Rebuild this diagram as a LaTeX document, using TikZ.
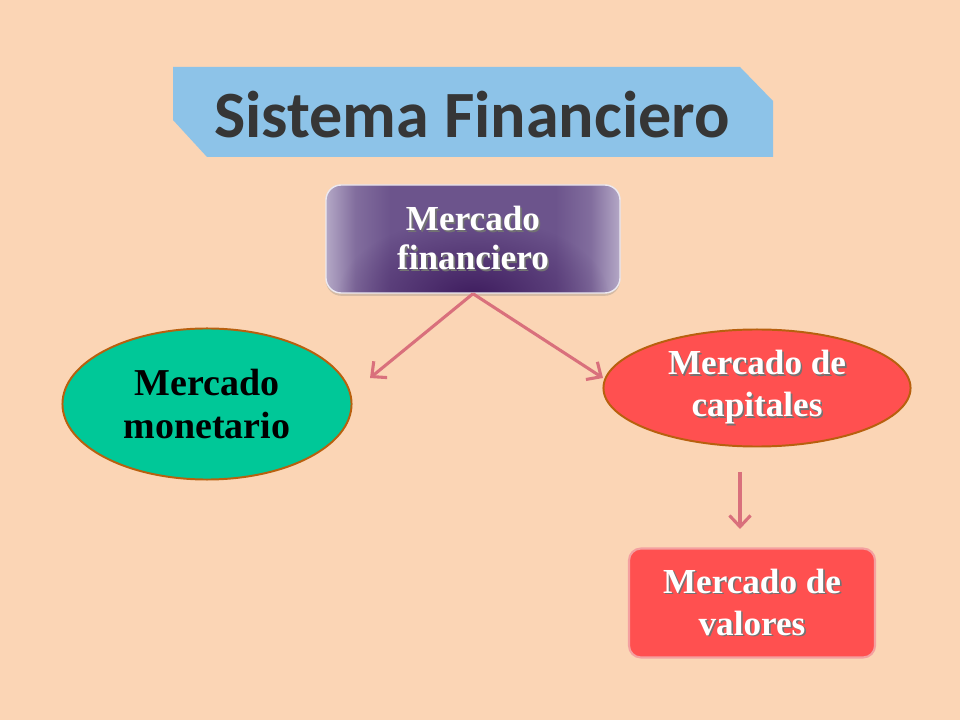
\documentclass[tikz,border=0pt]{standalone}
\usepackage{fontspec}
\setmainfont{Liberation Serif}
\newfontfamily\titulofont{Carlito}
\usetikzlibrary{shapes,positioning,arrows.meta,shadows,fadings}
\definecolor{fondo}{HTML}{FBD5B5}
\definecolor{celeste}{HTML}{8DC3E8}
\definecolor{grisoscuro}{HTML}{363636}
\definecolor{moradooscuro}{HTML}{3E1C5E}
\definecolor{morado}{HTML}{6C548C}
\definecolor{lila}{HTML}{B4A8C6}
\definecolor{rosaflecha}{HTML}{D9707C}
\definecolor{verde}{HTML}{00C898}
\definecolor{marron}{HTML}{B8600E}
\definecolor{rojo}{HTML}{FF5050}
\definecolor{rosaborde}{HTML}{F4A0A0}
\tikzfading[name=brillo,inner color=transparent!0,outer color=transparent!100]
\pgfdeclarehorizontalshading{moradoh}{100bp}{color(0bp)=(lila); color(25bp)=(lila); color(30bp)=(morado!70!lila);
  color(36bp)=(morado); color(64bp)=(morado); color(70bp)=(morado!70!lila); color(75bp)=(lila); color(100bp)=(lila)}
\tikzset{>={Straight Barb[length=8pt,width=15pt]}}
\tikzset{
  flecha/.style={->,draw=rosaflecha,line width=2.2pt},
  texto/.style={align=center,font=\bfseries\fontsize{25}{30}\selectfont},
  elipse/.style={ellipse,draw=marron,line width=1.4pt,inner sep=0pt,texto}
}
\newcommand\sombra[1]{\leavevmode\rlap{\kern1.2pt\raisebox{-1.2pt}{\color{black!55}#1}}#1}

\begin{document}
\begin{tikzpicture}[x=0.025cm,y=-0.025cm]
    \fill[fondo] (0,0) rectangle (960,720);
    % banner
    \fill[celeste] (173,67) -- (740,67) -- (773,101) -- (773,157) -- (207,157) -- (173,120) -- cycle;
    \node[anchor=base,text=grisoscuro,font=\titulofont\bfseries\fontsize{47}{52}\selectfont] (titulo) at (472,138) {Sistema Financiero};
    % purple box
    \shade[rounded corners=0.38cm,shading=moradoh,
           drop shadow={opacity=0.3,shadow xshift=0pt,shadow yshift=-2pt}] (326,185) rectangle (620,293);
    \begin{scope}
        \clip[rounded corners=0.38cm] (326,185) rectangle (620,293);
        \fill[moradooscuro,path fading=brillo] (473,298) ellipse (3.4cm and 2cm);
    \end{scope}
    % nodes
    \node[texto,font=\bfseries\fontsize{25}{27.5}\selectfont,text=white,rounded corners=0.38cm,
          draw=white!75!lila,line width=1pt,minimum width=7.35cm,minimum height=2.7cm] (fin) at (473,239)
          {\sombra{Mercado}\\\sombra{financiero}};
    \node[elipse,fill=verde,minimum width=7.225cm,minimum height=3.775cm,
          font=\bfseries\fontsize{27}{30}\selectfont] (mon) at (207,404) {Mercado\\monetario};
    \node[elipse,fill=rojo,text=white,minimum width=7.675cm,minimum height=2.925cm] (cap) at (757,388)
          {\sombra{Mercado de}\\\sombra{capitales}};
    \node[texto,text=white,fill=rojo,draw=rosaborde,line width=1.5pt,rounded corners=0.3cm,
          minimum width=6.15cm,minimum height=2.725cm] (val) at (752,603)
          {\sombra{Mercado de}\\\sombra{valores}};
    % connectors
    \coordinate (mon tip) at (370,378);
    \coordinate (cap tip) at (603,378);
    \coordinate (val from) at (740,472);
    \coordinate (val tip) at (740,529);
    \draw[flecha] (fin.south) -- (mon tip);
    \draw[flecha] (fin.south) -- (cap tip);
    \draw[flecha] (val from) -- (val tip);
\end{tikzpicture}
\end{document}
